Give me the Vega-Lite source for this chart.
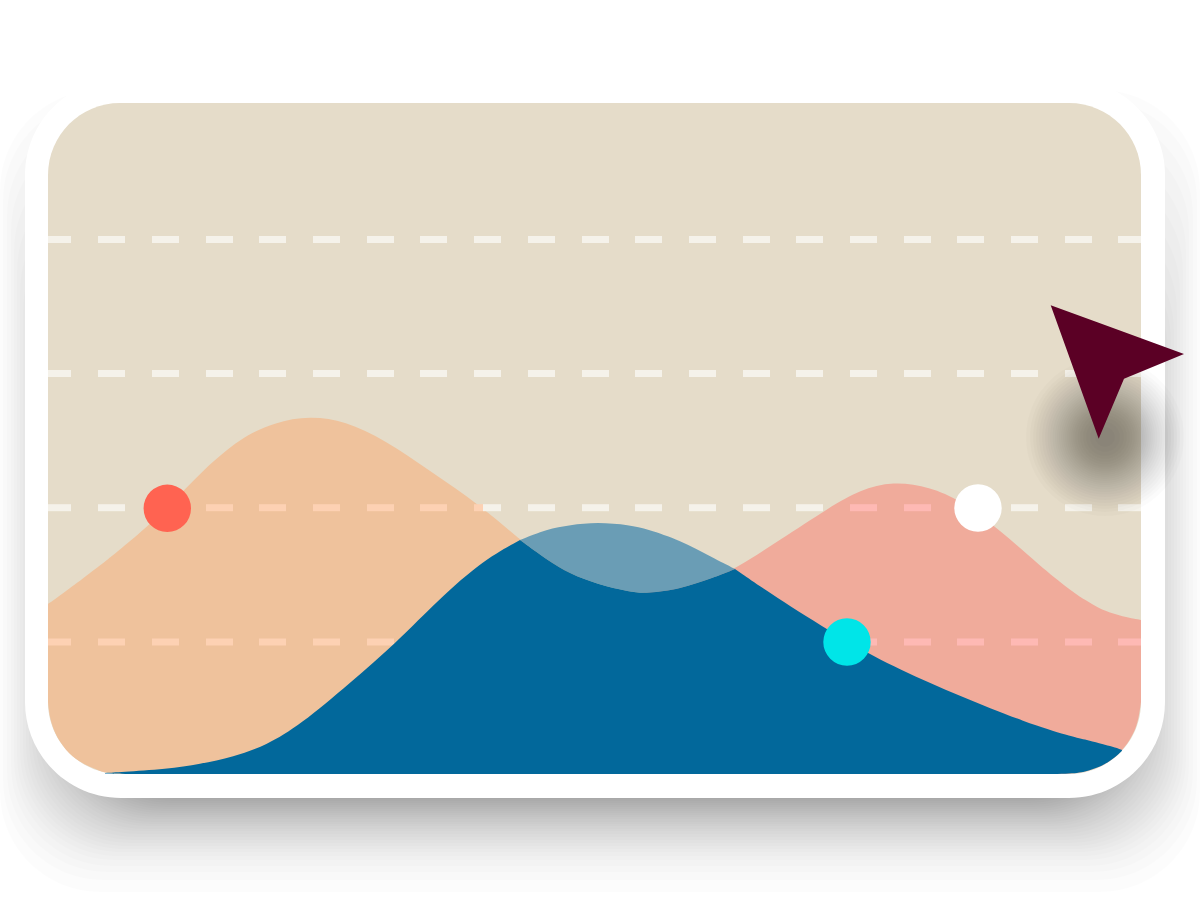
{"$schema":"https://vega.github.io/schema/vega-lite/v6.json","width":1200,"height":900,"autosize":{"type":"fit","contains":"padding"},"padding":0,"background":"#ffffff","config":{"view":{"stroke":null}},
"encoding":{"x":{"field":"x","type":"quantitative","scale":{"domain":[0,1200],"nice":false,"zero":false},"axis":null},"y":{"field":"y","type":"quantitative","scale":{"domain":[900,0],"nice":false,"zero":false},"axis":null}},
"resolve":{"scale":{"color":"independent"}},
"layer":[
{"data":{"values":[{"x":0,"x2":1200,"y":90,"y2":892},{"x":3,"x2":1197,"y":100,"y2":880},{"x":7,"x2":1193,"y":115,"y2":872},{"x":11,"x2":1189,"y":130,"y2":866},{"x":14,"x2":1186,"y":150,"y2":860},{"x":17,"x2":1183,"y":170,"y2":856},{"x":20,"x2":1180,"y":190,"y2":852},{"x":23,"x2":1177,"y":210,"y2":849},{"x":26,"x2":1174,"y":230,"y2":846},{"x":29,"x2":1171,"y":240,"y2":843},{"x":32,"x2":1168,"y":250,"y2":840},{"x":35,"x2":1165,"y":260,"y2":837},{"x":38,"x2":1162,"y":270,"y2":834},{"x":41,"x2":1159,"y":280,"y2":831},{"x":44,"x2":1156,"y":290,"y2":829},{"x":47,"x2":1153,"y":300,"y2":826},{"x":50,"x2":1150,"y":300,"y2":824},{"x":52,"x2":1148,"y":300,"y2":822},{"x":54,"x2":1146,"y":300,"y2":819},{"x":56,"x2":1144,"y":300,"y2":817},{"x":58,"x2":1142,"y":300,"y2":815},{"x":60,"x2":1140,"y":300,"y2":813},{"x":62,"x2":1138,"y":300,"y2":811},{"x":64,"x2":1136,"y":300,"y2":809},{"x":66,"x2":1134,"y":300,"y2":807},{"x":68,"x2":1132,"y":300,"y2":805},{"x":70,"x2":1130,"y":300,"y2":803},{"x":72,"x2":1128,"y":300,"y2":801},{"x":74,"x2":1126,"y":300,"y2":799},{"x":76,"x2":1124,"y":300,"y2":797}]},
"mark":{"type":"rect","color":"#000000","opacity":0.01,"cornerRadius":100},"encoding":{"x2":{"field":"x2"},"y2":{"field":"y2"}}},
{"data":{"values":[{"x":25,"x2":1165,"y":79,"y2":798}]},"mark":{"type":"rect","color":"#ffffff","cornerRadius":96},"encoding":{"x2":{"field":"x2"},"y2":{"field":"y2"}}},
{"data":{"values":[{"x":48,"x2":1141,"y":103,"y2":774}]},"mark":{"type":"rect","color":"#e5dcc9","cornerRadius":72},"encoding":{"x2":{"field":"x2"},"y2":{"field":"y2"}}},
{"data":{"values":[{"x":48,"y":604,"y2":702},{"x":49,"y":603,"y2":712},{"x":51,"y":602,"y2":722},{"x":55,"y":599,"y2":733},{"x":60,"y":595.5,"y2":742},{"x":66,"y":591,"y2":750},{"x":72,"y":586.5,"y2":756},{"x":80,"y":581,"y2":762},{"x":90,"y":573,"y2":767},{"x":100,"y":565.5,"y2":771},{"x":107,"y":560,"y2":773},{"x":120,"y":549.5,"y2":774},{"x":147,"y":527,"y2":774},{"x":175,"y":500,"y2":774},{"x":203,"y":470,"y2":774},{"x":240,"y":438,"y2":774},{"x":275,"y":422,"y2":774},{"x":310,"y":416,"y2":774},{"x":345,"y":421,"y2":774},{"x":385,"y":440,"y2":774},{"x":430,"y":471,"y2":774},{"x":480,"y":505,"y2":774},{"x":520,"y":540,"y2":774},{"x":547,"y":560,"y2":774},{"x":580,"y":579,"y2":774},{"x":613,"y":589,"y2":774},{"x":640,"y":593,"y2":774}]},
"mark":{"type":"area","color":"#efc29c","interpolate":"basis"},"encoding":{"y2":{"field":"y2"}}},
{"data":{"values":[{"x":640,"y":593,"y2":774},{"x":647,"y":593,"y2":774},{"x":680,"y":589,"y2":774},{"x":713,"y":578,"y2":774},{"x":735,"y":569,"y2":774},{"x":780,"y":540,"y2":774},{"x":830,"y":507,"y2":774},{"x":860,"y":490,"y2":774},{"x":893,"y":481,"y2":774},{"x":930,"y":487,"y2":774},{"x":960,"y":500,"y2":774},{"x":1000,"y":530,"y2":774},{"x":1040,"y":566,"y2":774},{"x":1070,"y":590,"y2":774},{"x":1085,"y":600,"y2":772},{"x":1100,"y":609,"y2":767},{"x":1110,"y":612.5,"y2":761},{"x":1120,"y":615.5,"y2":753},{"x":1130,"y":618,"y2":740},{"x":1136,"y":619,"y2":728},{"x":1139,"y":619.6,"y2":716},{"x":1141,"y":620,"y2":702}]},
"mark":{"type":"area","color":"#f0ab9b","interpolate":"basis"},"encoding":{"y2":{"field":"y2"}}},
{"data":{"values":[
{"x":48,"x2":71,"y":239.5,"over":"ground"},{"x":98,"x2":125,"y":239.5,"over":"ground"},{"x":152,"x2":179,"y":239.5,"over":"ground"},{"x":206,"x2":233,"y":239.5,"over":"ground"},{"x":259,"x2":286,"y":239.5,"over":"ground"},{"x":313,"x2":340,"y":239.5,"over":"ground"},{"x":367,"x2":394,"y":239.5,"over":"ground"},{"x":420,"x2":447,"y":239.5,"over":"ground"},{"x":474,"x2":501,"y":239.5,"over":"ground"},{"x":528,"x2":555,"y":239.5,"over":"ground"},{"x":582,"x2":609,"y":239.5,"over":"ground"},{"x":635,"x2":662,"y":239.5,"over":"ground"},{"x":689,"x2":716,"y":239.5,"over":"ground"},{"x":743,"x2":770,"y":239.5,"over":"ground"},{"x":796,"x2":823,"y":239.5,"over":"ground"},{"x":850,"x2":877,"y":239.5,"over":"ground"},{"x":904,"x2":931,"y":239.5,"over":"ground"},{"x":957,"x2":984,"y":239.5,"over":"ground"},{"x":1011,"x2":1038,"y":239.5,"over":"ground"},{"x":1065,"x2":1092,"y":239.5,"over":"ground"},{"x":1118,"x2":1141,"y":239.5,"over":"ground"},
{"x":48,"x2":71,"y":373.5,"over":"ground"},{"x":98,"x2":125,"y":373.5,"over":"ground"},{"x":152,"x2":179,"y":373.5,"over":"ground"},{"x":206,"x2":233,"y":373.5,"over":"ground"},{"x":259,"x2":286,"y":373.5,"over":"ground"},{"x":313,"x2":340,"y":373.5,"over":"ground"},{"x":367,"x2":394,"y":373.5,"over":"ground"},{"x":420,"x2":447,"y":373.5,"over":"ground"},{"x":474,"x2":501,"y":373.5,"over":"ground"},{"x":528,"x2":555,"y":373.5,"over":"ground"},{"x":582,"x2":609,"y":373.5,"over":"ground"},{"x":635,"x2":662,"y":373.5,"over":"ground"},{"x":689,"x2":716,"y":373.5,"over":"ground"},{"x":743,"x2":770,"y":373.5,"over":"ground"},{"x":796,"x2":823,"y":373.5,"over":"ground"},{"x":850,"x2":877,"y":373.5,"over":"ground"},{"x":904,"x2":931,"y":373.5,"over":"ground"},{"x":957,"x2":984,"y":373.5,"over":"ground"},{"x":1011,"x2":1038,"y":373.5,"over":"ground"},{"x":1065,"x2":1092,"y":373.5,"over":"ground"},{"x":1118,"x2":1141,"y":373.5,"over":"ground"},
{"x":48,"x2":71,"y":507.7,"over":"ground"},{"x":98,"x2":125,"y":507.7,"over":"ground"},{"x":152,"x2":167,"y":507.7,"over":"ground"},{"x":167,"x2":179,"y":507.7,"over":"orange"},{"x":206,"x2":233,"y":507.7,"over":"orange"},{"x":259,"x2":286,"y":507.7,"over":"orange"},{"x":313,"x2":340,"y":507.7,"over":"orange"},{"x":367,"x2":394,"y":507.7,"over":"orange"},{"x":420,"x2":447,"y":507.7,"over":"orange"},{"x":474,"x2":483,"y":507.7,"over":"orange"},{"x":483,"x2":501,"y":507.7,"over":"ground"},{"x":528,"x2":555,"y":507.7,"over":"ground"},{"x":582,"x2":609,"y":507.7,"over":"ground"},{"x":635,"x2":662,"y":507.7,"over":"ground"},{"x":689,"x2":716,"y":507.7,"over":"ground"},{"x":743,"x2":770,"y":507.7,"over":"ground"},{"x":796,"x2":823,"y":507.7,"over":"ground"},{"x":850,"x2":877,"y":507.7,"over":"pink"},{"x":904,"x2":931,"y":507.7,"over":"pink"},{"x":957,"x2":984,"y":507.7,"over":"pink"},{"x":1011,"x2":1038,"y":507.7,"over":"ground"},{"x":1065,"x2":1092,"y":507.7,"over":"ground"},{"x":1118,"x2":1141,"y":507.7,"over":"ground"},
{"x":48,"x2":71,"y":642,"over":"orange"},{"x":98,"x2":125,"y":642,"over":"orange"},{"x":152,"x2":179,"y":642,"over":"orange"},{"x":206,"x2":233,"y":642,"over":"orange"},{"x":259,"x2":286,"y":642,"over":"orange"},{"x":313,"x2":340,"y":642,"over":"orange"},{"x":367,"x2":394,"y":642,"over":"orange"},{"x":420,"x2":447,"y":642,"over":"orange"},{"x":474,"x2":501,"y":642,"over":"orange"},{"x":528,"x2":555,"y":642,"over":"orange"},{"x":582,"x2":609,"y":642,"over":"orange"},{"x":635,"x2":662,"y":642,"over":"pink"},{"x":689,"x2":716,"y":642,"over":"pink"},{"x":743,"x2":770,"y":642,"over":"pink"},{"x":796,"x2":823,"y":642,"over":"pink"},{"x":850,"x2":877,"y":642,"over":"pink"},{"x":904,"x2":931,"y":642,"over":"pink"},{"x":957,"x2":984,"y":642,"over":"pink"},{"x":1011,"x2":1038,"y":642,"over":"pink"},{"x":1065,"x2":1092,"y":642,"over":"pink"},{"x":1118,"x2":1141,"y":642,"over":"pink"}]},
"mark":{"type":"rule","strokeWidth":7,"strokeCap":"butt"},"encoding":{"x2":{"field":"x2"},"color":{"field":"over","type":"nominal","scale":{"domain":["ground","orange","pink"],"range":["#f5f2ea","#fdd1b3","#feb9b4"]},"legend":null}}},
{"data":{"values":[{"x":520,"y":540,"y2":540},{"x":547,"y":529,"y2":560},{"x":570,"y":525,"y2":574},{"x":597,"y":522,"y2":584},{"x":630,"y":525,"y2":592},{"x":647,"y":529,"y2":593.5},{"x":680,"y":540,"y2":589},{"x":713,"y":558,"y2":578},{"x":735,"y":569,"y2":569}]},
"mark":{"type":"area","color":"#6a9db5","interpolate":"basis"},"encoding":{"y2":{"field":"y2"}}},
{"data":{"values":[{"part":"rise","x":105,"y":773,"y2":773.5},{"part":"rise","x":120,"y":772,"y2":774},{"part":"rise","x":167,"y":769,"y2":774},{"part":"rise","x":200,"y":764,"y2":774},{"part":"rise","x":233,"y":757,"y2":774},{"part":"rise","x":267,"y":745,"y2":774},{"part":"rise","x":300,"y":725,"y2":774},{"part":"rise","x":350,"y":683,"y2":774},{"part":"rise","x":397,"y":642,"y2":774},{"part":"rise","x":430,"y":608,"y2":774},{"part":"rise","x":480,"y":562,"y2":774},{"part":"rise","x":520,"y":540,"y2":774},
{"part":"dip","x":520,"y":540,"y2":774},{"part":"dip","x":547,"y":560,"y2":774},{"part":"dip","x":570,"y":574,"y2":774},{"part":"dip","x":597,"y":584,"y2":774},{"part":"dip","x":630,"y":592,"y2":774},{"part":"dip","x":647,"y":593.5,"y2":774},{"part":"dip","x":680,"y":589,"y2":774},{"part":"dip","x":713,"y":578,"y2":774},{"part":"dip","x":735,"y":569,"y2":774},
{"part":"fall","x":735,"y":569,"y2":774},{"part":"fall","x":780,"y":600,"y2":774},{"part":"fall","x":847,"y":642,"y2":774},{"part":"fall","x":900,"y":670,"y2":774},{"part":"fall","x":960,"y":696,"y2":774},{"part":"fall","x":1027,"y":723,"y2":774},{"part":"fall","x":1070,"y":736,"y2":774},{"part":"fall","x":1085,"y":739.5,"y2":772},{"part":"fall","x":1100,"y":743.5,"y2":767},{"part":"fall","x":1110,"y":746,"y2":761},{"part":"fall","x":1120,"y":749,"y2":753},{"part":"fall","x":1122,"y":750,"y2":750.5}]},
"mark":{"type":"area","color":"#02689b","interpolate":"basis"},"encoding":{"y2":{"field":"y2"},"detail":{"field":"part"}}},
{"data":{"values":[{"name":"white dot","x":978,"y":508},{"name":"red dot","x":167.3,"y":508.3},{"name":"cyan dot","x":847,"y":642}]},
"mark":{"type":"point","shape":"circle","filled":true,"opacity":1,"size":2250},"encoding":{"color":{"field":"name","type":"nominal","scale":{"domain":["red dot","white dot","cyan dot"],"range":["#ff6351","#ffffff","#00e5e8"]},"legend":null}}},
{"data":{"values":[{"x":1105,"y":437,"d":158},{"x":1105,"y":437,"d":150},{"x":1105,"y":437,"d":144},{"x":1105,"y":437,"d":138},{"x":1105,"y":437,"d":132},{"x":1105,"y":437,"d":126},{"x":1105,"y":437,"d":120},{"x":1105,"y":437,"d":115},{"x":1105,"y":437,"d":110},{"x":1105,"y":437,"d":105},{"x":1105,"y":437,"d":100},{"x":1105,"y":437,"d":96},{"x":1105,"y":437,"d":92},{"x":1105,"y":437,"d":88},{"x":1105,"y":437,"d":84},{"x":1105,"y":437,"d":80},{"x":1105,"y":437,"d":76},{"x":1105,"y":437,"d":72},{"x":1105,"y":437,"d":68},{"x":1105,"y":437,"d":64},{"x":1105,"y":437,"d":60},{"x":1105,"y":437,"d":55},{"x":1105,"y":437,"d":50},{"x":1105,"y":437,"d":44},{"x":1105,"y":437,"d":38},{"x":1105,"y":437,"d":30},{"x":1105,"y":437,"d":20}]},
"mark":{"type":"point","shape":"circle","filled":true,"color":"#000000","opacity":0.014},"encoding":{"size":{"field":"d","type":"quantitative","scale":{"type":"pow","exponent":2,"domain":[0,160],"range":[0,25600],"zero":true},"legend":null}}},
{"data":{"values":[{"x":1050.7,"y":305.3,"y2":305.3},{"x":1098.7,"y":322.8,"y2":438.7},{"x":1124,"y":332.1,"y2":378.7},{"x":1184,"y":354,"y2":354}]},
"mark":{"type":"area","color":"#5b0025","interpolate":"linear"},"encoding":{"y2":{"field":"y2"}}}
]}
